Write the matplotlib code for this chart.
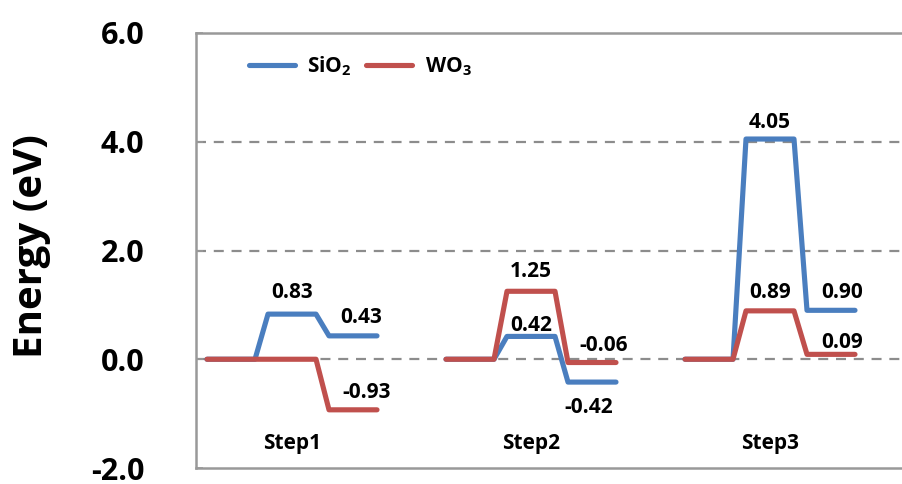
import matplotlib
matplotlib.use('Agg')
import matplotlib.pyplot as plt

# energy levels per step: start, intermediate, final
steps = ['Step1', 'Step2', 'Step3']
sio2_levels = [[0, 0.83, 0.43], [0, 0.42, -0.42], [0, 4.05, 0.90]]
wo3_levels = [[0, 0, -0.93], [0, 1.25, -0.06], [0, 0.89, 0.09]]

# which values get a label: (series, step, level)
labels = [('sio2', 0, 1), ('sio2', 0, 2), ('wo3', 0, 2),
          ('wo3', 1, 1), ('sio2', 1, 1), ('wo3', 1, 2), ('sio2', 1, 2),
          ('sio2', 2, 1), ('wo3', 2, 1), ('sio2', 2, 2), ('wo3', 2, 2)]
# label offsets in pixels (dx, dy)
label_offsets = [(0, 22), (8, 18), (14, 17),
                 (0, 20), (0, 11), (12, 17), (-3, -25),
                 (0, 17), (0, 18), (11, 18), (11, 12)]

BLUE = '#4a7ebf'
RED = '#c0504d'
GRID = '#8c8c8c'

plt.rcParams['font.family'] = ['Open Sans', 'DejaVu Sans']
plt.rcParams['font.weight'] = 'bold'
plt.rcParams['mathtext.fontset'] = 'custom'
plt.rcParams['mathtext.rm'] = 'Open Sans'

# layout of a step on the x axis
X0 = 11
LEVEL_W = 48
GAP = 13
PITCH = 239


def level_x(step, k):
    start = X0 + step * PITCH + k * (LEVEL_W + GAP)
    return start, start + LEVEL_W


def profile(levels, step):
    xs, ys = [], []
    for k, v in enumerate(levels):
        a, b = level_x(step, k)
        xs += [a, b]
        ys += [v, v]
    return xs, ys


fig = plt.figure(figsize=(9.02, 4.84), dpi=100)
ax = fig.add_axes([196 / 902, 16 / 484, 1 - 196 / 902, 435 / 484])

for y in [0, 2, 4]:
    ax.axhline(y, color=GRID, lw=1.6, dashes=(4.5, 3.5), zorder=1)

for s in range(len(steps)):
    xs, ys = profile(sio2_levels[s], s)
    ax.plot(xs, ys, color=BLUE, lw=3.7, solid_capstyle='round',
            solid_joinstyle='round', zorder=3, label='SiO$_2$' if s == 0 else None)
for s in range(len(steps)):
    xs, ys = profile(wo3_levels[s], s)
    ax.plot(xs, ys, color=RED, lw=3.7, solid_capstyle='round',
            solid_joinstyle='round', zorder=4, label='WO$_3$' if s == 0 else None)

series = {'sio2': sio2_levels, 'wo3': wo3_levels}
for (name, s, k), (dx, dy) in zip(labels, label_offsets):
    v = series[name][s][k]
    a, b = level_x(s, k)
    ax.annotate(f'{v:.2f}', xy=((a + b) / 2, v), xytext=(dx * 0.72, dy * 0.72),
                textcoords='offset points', ha='center', va='center',
                fontsize=15, fontweight='bold', zorder=5)

for s, name in enumerate(steps):
    a, b = level_x(s, 1)
    ax.text((a + b) / 2, -1.55, name, ha='center', va='center',
            fontsize=15, fontweight='bold')

ax.set_xlim(0, 706)
ax.set_ylim(-2, 6)
ax.set_yticks([-2, 0, 2, 4, 6])
ax.set_yticklabels([f'{t:.1f}' for t in [-2, 0, 2, 4, 6]])
ax.set_xticks([])
ax.tick_params(axis='y', direction='in', length=5, width=1.2, color='#999999',
               pad=37, labelsize=22)
for lab in ax.get_yticklabels():
    lab.set_fontweight('bold')

for side in ['left', 'top', 'bottom']:
    ax.spines[side].set_color('#999999')
    ax.spines[side].set_linewidth(1.8)
ax.spines['right'].set_visible(False)

fig.text(32 / 902, 1 - 246 / 484, 'Energy (eV)', rotation=90, ha='center',
         va='center', fontsize=29, fontweight='bold')

ax.legend(loc='center left', bbox_to_anchor=(0.075, 0.924), ncol=2, frameon=False,
          fontsize=15, handlelength=2.2, handletextpad=0.6, columnspacing=0.7,
          borderpad=0, borderaxespad=0)

fig.savefig('out.png', dpi=100)
